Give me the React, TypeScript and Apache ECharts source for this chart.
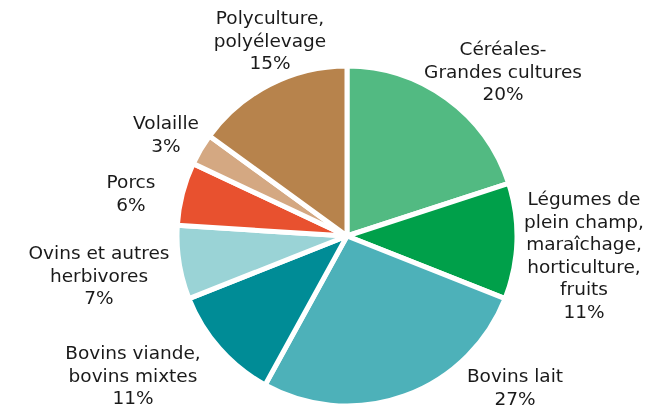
import React, { useEffect, useRef } from "react";
import * as echarts from "echarts";

const categories = [
  "Céréales-\nGrandes cultures",
  "Légumes de\nplein champ,\nmaraîchage,\nhorticulture,\nfruits",
  "Bovins lait",
  "Bovins viande,\nbovins mixtes",
  "Ovins et autres\nherbivores",
  "Porcs",
  "Volaille",
  "Polyculture,\npolyélevage",
];
const values = [20, 11, 27, 11, 7, 6, 3, 15];
const colors = ["#52BA82", "#00A04A", "#4DB1B9", "#008C96", "#9AD3D6", "#E8512F", "#D4A882", "#B7834C"];
// label centres (layout only)
const labelPos: [number, number][] = [
  [503, 71],
  [584, 255],
  [515, 387],
  [133, 375],
  [99, 275],
  [131, 193],
  [166, 134],
  [270, 40],
];

export default function App() {
  const ref = useRef<HTMLDivElement>(null);
  useEffect(() => {
    const chart = echarts.init(ref.current!, undefined, { renderer: "svg" });
    chart.setOption({
      animation: false,
      series: [
        {
          type: "pie",
          center: [347, 236],
          radius: [0, 170],
          startAngle: 90,
          clockwise: true,
          data: categories.map((c, i) => ({
            name: c,
            value: values[i],
            itemStyle: { color: colors[i] },
          })),
          itemStyle: { borderColor: "#fff", borderWidth: 5 },
          label: {
            show: true,
            formatter: (p: any) => `${p.name}\n${p.value}%`,
            fontFamily: "DejaVu Sans",
            fontSize: 18.5,
            lineHeight: 22.5,
            color: "#1a1a1a",
            align: "center",
            overflow: "none",
            width: 300,
          },
          labelLine: { show: false },
          labelLayout: (p: any) => ({
            x: labelPos[p.dataIndex][0],
            y: labelPos[p.dataIndex][1],
            align: "center",
            verticalAlign: "middle",
          }),
          emphasis: { disabled: true },
        },
      ],
    });
    return () => chart.dispose();
  }, []);
  return <div ref={ref} style={{ position: "fixed", left: 0, top: 0, width: 661, height: 410 }} />;
}
